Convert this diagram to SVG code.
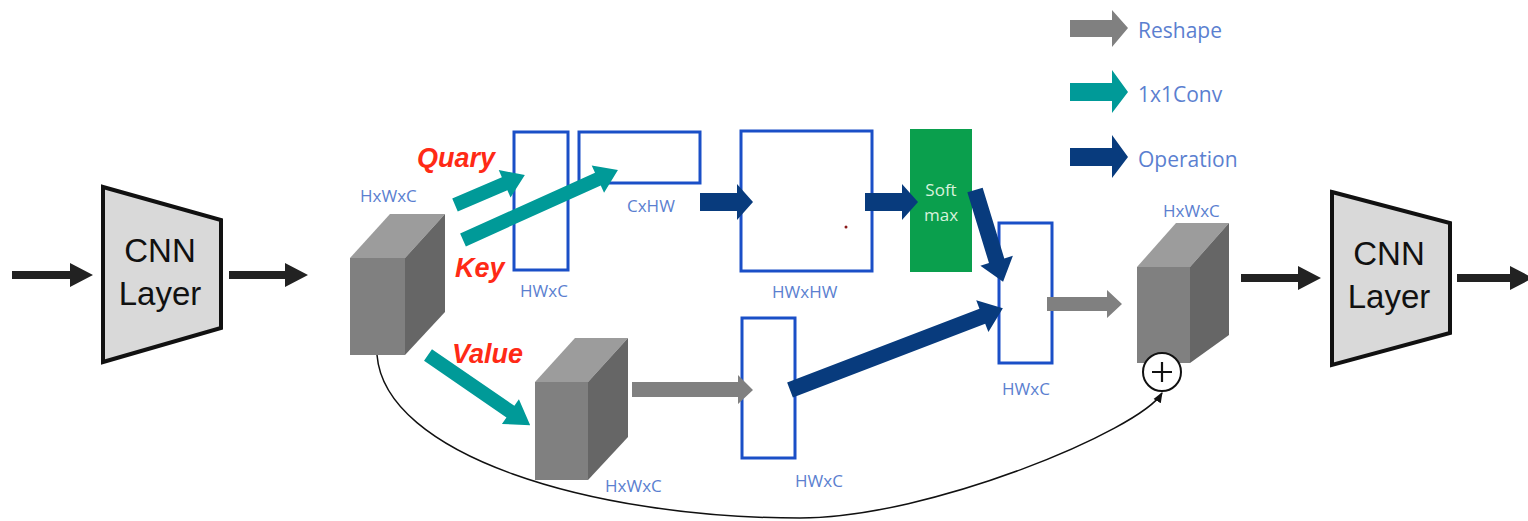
<svg xmlns="http://www.w3.org/2000/svg" width="1528" height="521" viewBox="0 0 1528 521">
<defs>
<style>
.cnn{fill:#d9d9d9;stroke:#111;stroke-width:4;stroke-linejoin:miter}
.cnnt{font-family:"Liberation Sans",Arial,sans-serif;font-size:33px;fill:#111;text-anchor:middle}
.lbl{font-family:"Open Sans","Noto Sans",sans-serif;font-size:17px;fill:#5b7fd0}
.leg{font-family:"Open Sans","Noto Sans",sans-serif;font-size:21px;fill:#5b7fd0}
.qkv{font-family:"Liberation Sans",Arial,sans-serif;font-size:27px;font-weight:bold;font-style:italic;fill:#ff2a16}
.box{fill:#fff;stroke:#1a4fc7;stroke-width:3}
.blk{fill:#222}
.gray{fill:#808080}
.teal{fill:#009a98}
.navy{fill:#083b7d}
.cf{fill:#808080}.ct{fill:#9c9c9c}.cr{fill:#666}
.sm{font-family:"Open Sans","Noto Sans",sans-serif;font-size:17px;fill:#d8f2dc;text-anchor:middle}
</style>
<marker id="ah" viewBox="0 0 10 10" refX="9" refY="5" markerWidth="7" markerHeight="7" orient="auto"><path d="M0,1 L10,5 L0,9 z" fill="#111"/></marker>
</defs>

<g id="cnn1">
<polygon class="cnn" points="103,187 221,220 221,328 103,362"/>
<text class="cnnt" x="160" y="262">CNN</text>
<text class="cnnt" x="160" y="305">Layer</text>
</g>
<g id="cnn2">
<polygon class="cnn" points="1332,192 1450,223 1450,333 1332,365"/>
<text class="cnnt" x="1389" y="265">CNN</text>
<text class="cnnt" x="1389" y="308">Layer</text>
</g>

<g id="cube1">
<polygon class="ct" points="350,258 405,258 445,214 390,214"/>
<polygon class="cr" points="405,258 445,214 445,312 405,355"/>
<rect class="cf" x="350" y="258" width="55" height="97"/>
<text class="lbl" x="360" y="202">HxWxC</text>
</g>

<g id="cube-value">
<polygon class="ct" points="535,382 588,382 628,338 575,338"/>
<polygon class="cr" points="588,382 628,338 628,437 588,480"/>
<rect class="cf" x="535" y="382" width="53" height="98"/>
<text class="lbl" x="605" y="492">HxWxC</text>
</g>

<g id="cube-out">
<polygon class="ct" points="1137,267 1190,267 1229,223 1176,223"/>
<polygon class="cr" points="1190,267 1229,223 1229,335 1190,363"/>
<rect class="cf" x="1137" y="267" width="53" height="96"/>
<text class="lbl" x="1163" y="217">HxWxC</text>
</g>

<g id="query-rect">
<rect class="box" x="514" y="132" width="54" height="138"/>
<text class="lbl" x="520" y="297">HWxC</text>
</g>
<g id="key-rect">
<rect class="box" x="579" y="132" width="121" height="51"/>
<text class="lbl" x="627" y="212">CxHW</text>
</g>
<g id="attn-rect">
<rect class="box" x="741" y="131" width="131" height="140"/>
<circle cx="846" cy="227" r="1.5" fill="#8b1a1a"/>
<text class="lbl" x="772" y="298">HWxHW</text>
</g>
<g id="softmax">
<rect x="910" y="129" width="62" height="143" fill="#0a9f4d"/>
<text class="sm" x="941" y="196">Soft</text>
<text class="sm" x="941" y="221">max</text>
</g>
<g id="value-rect">
<rect class="box" x="742" y="318" width="53" height="140"/>
<text class="lbl" x="795" y="487">HWxC</text>
</g>
<g id="out-rect">
<rect class="box" x="999" y="223" width="53" height="140"/>
<text class="lbl" x="1002" y="395">HWxC</text>
</g>
<g id="plus">
<circle cx="1162" cy="372" r="19" fill="#fff" stroke="#111" stroke-width="2"/>
<path d="M1152,372 H1172 M1162,362 V382" stroke="#111" stroke-width="2.2"/>
</g>

<g id="labels">
<text class="qkv" x="417" y="167">Quary</text>
<text class="qkv" x="455" y="277">Key</text>
<text class="qkv" x="452" y="363">Value</text>
</g>

<g id="connectors">
<!-- black arrows -->
<polygon class="blk" points="12,271 70,271 70,263 93,275 70,287 70,279 12,279"/>
<polygon class="blk" points="229,271 285,271 285,263 308,275 285,287 285,279 229,279"/>
<polygon class="blk" points="1241,274 1298,274 1298,266 1321,278 1298,290 1298,282 1241,282"/>
<polygon class="blk" points="1457,274 1510,274 1510,266 1533,278 1510,290 1510,282 1457,282"/>
<!-- teal -->
<polygon class="teal" transform="translate(455,205) rotate(-23.2)" points="0,-7 54,-7 54,-15 76,0 54,15 54,7 0,7"/>
<polygon class="teal" transform="translate(463,240) rotate(-24.3)" points="0,-7 148,-7 148,-15 170,0 148,15 148,7 0,7"/>
<polygon class="teal" transform="translate(428,355) rotate(34.5)" points="0,-7 100,-7 100,-15 124,0 100,15 100,7 0,7"/>
<!-- navy -->
<polygon class="navy" points="700,193 737,193 737,184 753,202 737,220 737,211 700,211"/>
<polygon class="navy" points="865,193 902,193 902,184 918,202 902,220 902,211 865,211"/>
<polygon class="navy" transform="translate(975,190) rotate(73)" points="0,-8 74,-8 74,-17 96,0 74,17 74,8 0,8"/>
<polygon class="navy" transform="translate(790,390) rotate(-21)" points="0,-8 206,-8 206,-17 228,0 206,17 206,8 0,8"/>
<!-- gray -->
<polygon class="gray" points="632,382 738,382 738,375 753,390 738,404 738,397 632,397"/>
<polygon class="gray" points="1047,297 1107,297 1107,290 1122,304 1107,318 1107,311 1047,311"/>
<!-- skip connection -->
<path d="M377,355 C385,455 590,518 800,518 C930,518 1140,430 1162,393" fill="none" stroke="#111" stroke-width="1.5" marker-end="url(#ah)"/>
</g>

<g id="legend">
<polygon class="gray" points="1070,20 1112,20 1112,10 1128,28 1112,47 1112,37 1070,37"/>
<text class="leg" x="1138" y="38">Reshape</text>
<polygon class="teal" points="1070,83 1112,83 1112,70 1128,92 1112,113 1112,101 1070,101"/>
<text class="leg" x="1138" y="102">1x1Conv</text>
<polygon class="navy" points="1070,148 1112,148 1112,135 1128,157 1112,178 1112,166 1070,166"/>
<text class="leg" x="1138" y="167">Operation</text>
</g>
</svg>
